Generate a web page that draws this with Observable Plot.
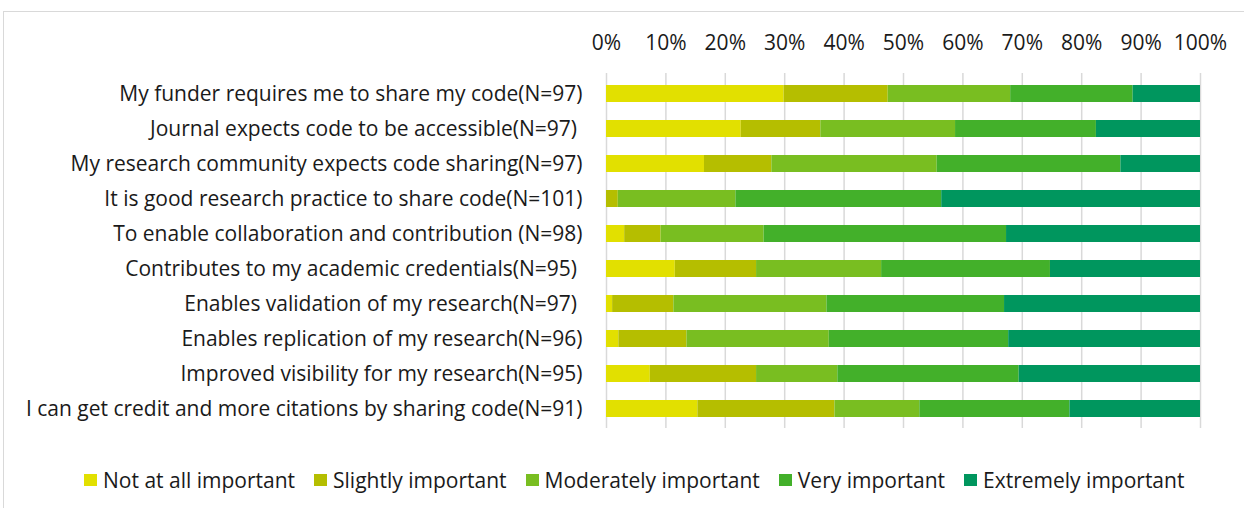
<!DOCTYPE html>
<html>
<head>
<meta charset="utf-8">
<script src="https://cdn.jsdelivr.net/npm/d3@7"></script>
<script src="https://cdn.jsdelivr.net/npm/@observablehq/plot@0.6"></script>
<style>
  html, body { margin: 0; padding: 0; background: #fff; }
  body { width: 1244px; height: 508px; position: relative; overflow: hidden; font-family: "Open Sans", sans-serif; }
  #frame { position: absolute; left: 3px; top: 11px; width: 1260px; height: 520px; border-top: 1.5px solid #d9d9d9; border-left: 1.5px solid #d9d9d9; }
  #chart { position: absolute; left: 0; top: 0; }
  #chart svg text { white-space: pre; }
  #legend { position: absolute; left: 84px; top: 467px; display: flex; align-items: center; font-size: 21px; line-height: 26px; color: #1a1a1a; }
  .item { display: flex; align-items: center; margin-right: 19px; }
  .sw { width: 13px; height: 12px; margin-right: 6px; }
</style>
</head>
<body>
<div id="frame"></div>
<div id="chart"></div>
<div id="legend"></div>
<script>
const questions = [
  "My funder requires me to share my code(N=97)",
  "Journal expects code to be accessible(N=97) ",
  "My research community expects code sharing(N=97)",
  "It is good research practice to share code(N=101)",
  "To enable collaboration and contribution (N=98)",
  "Contributes to my academic credentials(N=95) ",
  "Enables validation of my research(N=97) ",
  "Enables replication of my research(N=96)",
  "Improved visibility for my research(N=95)",
  "I can get credit and more citations by sharing code(N=91)"
];
const levels = ["Not at all important", "Slightly important", "Moderately important", "Very important", "Extremely important"];
const colors = ["#e2e000", "#b5be00", "#79be21", "#43b02a", "#00965e"];
const notAtAll   = [29, 22, 16,  0,  3, 11,  1,  2,  7, 14];
const slightly   = [17, 13, 11,  2,  6, 13, 10, 11, 17, 21];
const moderately = [20, 22, 27, 20, 17, 20, 25, 23, 13, 13];
const very       = [20, 23, 30, 35, 40, 27, 29, 29, 29, 23];
const extremely  = [11, 17, 13, 44, 32, 24, 32, 31, 29, 20];
const tickValues = [0, 0.1, 0.2, 0.3, 0.4, 0.5, 0.6, 0.7, 0.8, 0.9, 1];

const series = [notAtAll, slightly, moderately, very, extremely];
const rows = [];
levels.forEach((lvl, li) => {
  questions.forEach((q, qi) => rows.push({question: q, level: lvl, count: series[li][qi]}));
});

const chart = Plot.plot({
  width: 1244,
  height: 440,
  marginLeft: 606,
  marginRight: 44,
  marginTop: 73,
  marginBottom: 12,
  style: {fontFamily: "'Open Sans', sans-serif", fontSize: "21px", color: "#1a1a1a", background: "transparent"},
  x: {domain: [0, 1], axis: "top", ticks: tickValues, tickFormat: d3.format(".0%"), tickSize: 0, tickPadding: 24, label: null},
  y: {domain: questions, paddingInner: 0.52, paddingOuter: 0.26, tickSize: 0, tickPadding: 24, label: null},
  color: {domain: levels, range: colors},
  marks: [
    Plot.ruleX(tickValues, {stroke: "#d9d9d9", strokeWidth: 1.5}),
    Plot.barX(rows, Plot.stackX({x: "count", y: "question", fill: "level", offset: "normalize", order: levels, inset: 0}))
  ]
});
document.getElementById("chart").appendChild(chart);

const legend = document.getElementById("legend");
levels.forEach((lvl, i) => {
  const item = document.createElement("div");
  item.className = "item";
  const sw = document.createElement("div");
  sw.className = "sw";
  sw.style.background = colors[i];
  const t = document.createElement("span");
  t.textContent = lvl;
  item.appendChild(sw);
  item.appendChild(t);
  legend.appendChild(item);
});
</script>
</body>
</html>
